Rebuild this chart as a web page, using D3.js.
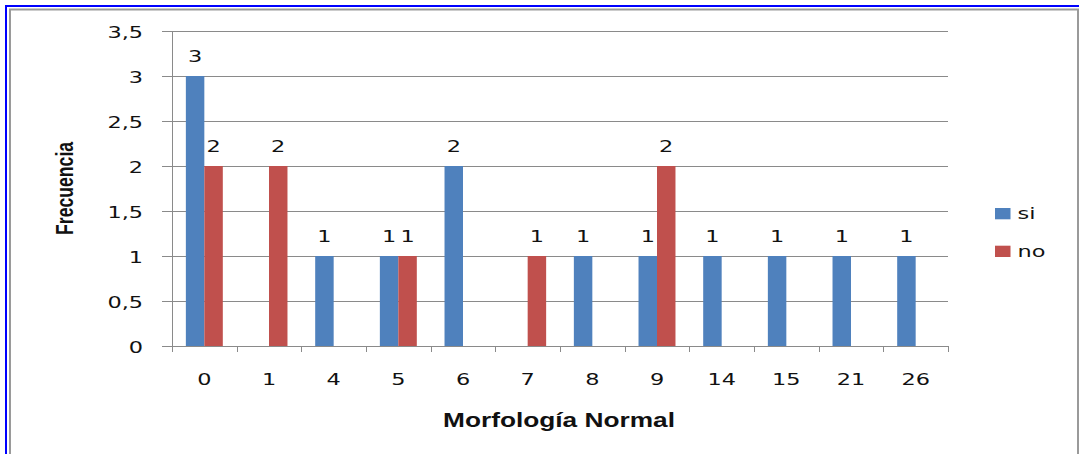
<!DOCTYPE html>
<html>
<head>
<meta charset="utf-8">
<script src="https://cdn.jsdelivr.net/npm/d3@7"></script>
<style>
  html, body { margin: 0; padding: 0; background: #fff; }
  svg { display: block; }
</style>
</head>
<body>
<svg id="chart" width="1079" height="454"></svg>
<script>
// Categories on the x axis (Morfología Normal)
const categories = ["0", "1", "4", "5", "6", "7", "8", "9", "14", "15", "21", "26"];
// Series names
const seriesNames = ["si", "no"];
// Frequency per category; null = no bar
const siValues = [3, null, 1, 1, 2, null, 1, 1, 1, 1, 1, 1];
const noValues = [2, 2, null, 1, null, 1, null, 2, null, null, null, null];
// Y axis ticks
const yTicks = [0, 0.5, 1, 1.5, 2, 2.5, 3, 3.5];

const colors = { si: "#4f81bd", no: "#c0504d" };
const SX = 1.4;            // horizontal text stretch
const numFont = "'DejaVu Sans', Verdana, sans-serif";
const titleFont = "'Liberation Sans Narrow', 'Liberation Sans', Arial, sans-serif";

const svg = d3.select("#chart");

// Outer frame
svg.append("rect").attr("x", 0).attr("y", 0).attr("width", 1079).attr("height", 454).attr("fill", "#fff");
svg.append("path").attr("d", "M6,454 V6 H1079").attr("fill", "none").attr("stroke", "#0000ff").attr("stroke-width", 2);
svg.append("path").attr("d", "M10,454 V9.5 H1078 V454").attr("fill", "none").attr("stroke", "#9a9a9a").attr("stroke-width", 2);

const plot = { left: 172, right: 948, top: 31, bottom: 346 };

const x0 = d3.scaleBand().domain(categories).range([plot.left, plot.right]).padding(0);
const x1 = d3.scaleBand().domain(seriesNames).range([0, x0.bandwidth()]).paddingInner(0).paddingOuter(0.75);
const y = d3.scaleLinear().domain([0, 3.5]).range([plot.bottom, plot.top]);

const gridColor = "#8a8a8a";

// Horizontal gridlines with left tick marks
svg.append("g").selectAll("line").data(yTicks).join("line")
  .attr("x1", plot.left - 10).attr("x2", plot.right)
  .attr("y1", d => Math.round(y(d)) + 0.5).attr("y2", d => Math.round(y(d)) + 0.5)
  .attr("stroke", gridColor).attr("stroke-width", 1);

// Vertical axis line
svg.append("line")
  .attr("x1", plot.left + 0.5).attr("x2", plot.left + 0.5)
  .attr("y1", plot.top).attr("y2", plot.bottom + 6)
  .attr("stroke", gridColor);

// X axis tick marks at category boundaries
const boundaries = categories.map(c => x0(c)).concat([plot.right]);
svg.append("g").selectAll("line").data(boundaries).join("line")
  .attr("x1", d => Math.round(d) + 0.5).attr("x2", d => Math.round(d) + 0.5)
  .attr("y1", plot.bottom).attr("y2", plot.bottom + 6)
  .attr("stroke", gridColor);

// Y tick labels
svg.append("g").selectAll("text").data(yTicks).join("text")
  .attr("transform", d => `translate(143,${y(d) + 6.8}) scale(${SX},1)`)
  .attr("text-anchor", "end")
  .attr("font-family", numFont).attr("font-size", 16).attr("fill", "#111")
  .text(d => String(d).replace(".", ","));

// X tick labels
svg.append("g").selectAll("text").data(categories).join("text")
  .attr("transform", d => `translate(${x0(d) + x0.bandwidth() / 2},385) scale(${SX},1)`)
  .attr("text-anchor", "middle")
  .attr("font-family", numFont).attr("font-size", 16).attr("fill", "#111")
  .text(d => d);

// Bars
const rows = [];
categories.forEach((c, i) => {
  [["si", siValues[i]], ["no", noValues[i]]].forEach(([s, v]) => {
    if (v != null) rows.push({ cat: c, series: s, value: v });
  });
});

svg.append("g").selectAll("rect").data(rows).join("rect")
  .attr("x", d => x0(d.cat) + x1(d.series))
  .attr("y", d => y(d.value))
  .attr("width", x1.bandwidth())
  .attr("height", d => y(0) - y(d.value))
  .attr("fill", d => colors[d.series]);

// Value labels
svg.append("g").selectAll("text").data(rows).join("text")
  .attr("transform", d => `translate(${x0(d.cat) + x1(d.series) + x1.bandwidth() / 2},${y(d.value) - 13.8}) scale(${SX},1)`)
  .attr("text-anchor", "middle")
  .attr("font-family", numFont).attr("font-size", 16).attr("fill", "#111")
  .text(d => d.value);

// Legend
const legend = svg.append("g").selectAll("g").data(seriesNames).join("g")
  .attr("transform", (d, i) => `translate(995,${208 + i * 37.7})`);
legend.append("rect").attr("width", 15.5).attr("height", 11.3).attr("fill", d => colors[d]);
legend.append("text")
  .attr("transform", `translate(22.5,11.3) scale(${SX},1)`)
  .attr("font-family", numFont).attr("font-size", 16).attr("fill", "#111")
  .text(d => d);

// Axis titles
svg.append("text")
  .attr("transform", `translate(559,426.7) scale(${SX},1)`)
  .attr("text-anchor", "middle")
  .attr("font-family", titleFont).attr("font-weight", "bold").attr("font-size", 21).attr("fill", "#111")
  .attr("textLength", 232 / SX).attr("lengthAdjust", "spacingAndGlyphs")
  .text("Morfología Normal");

svg.append("text")
  .attr("transform", `translate(73.3,188.4) scale(${SX},1) rotate(-90)`)
  .attr("text-anchor", "middle")
  .attr("font-family", titleFont).attr("font-weight", "bold").attr("font-size", 16.5).attr("fill", "#111")
  .attr("textLength", 93).attr("lengthAdjust", "spacingAndGlyphs")
  .text("Frecuencia");
</script>
</body>
</html>
